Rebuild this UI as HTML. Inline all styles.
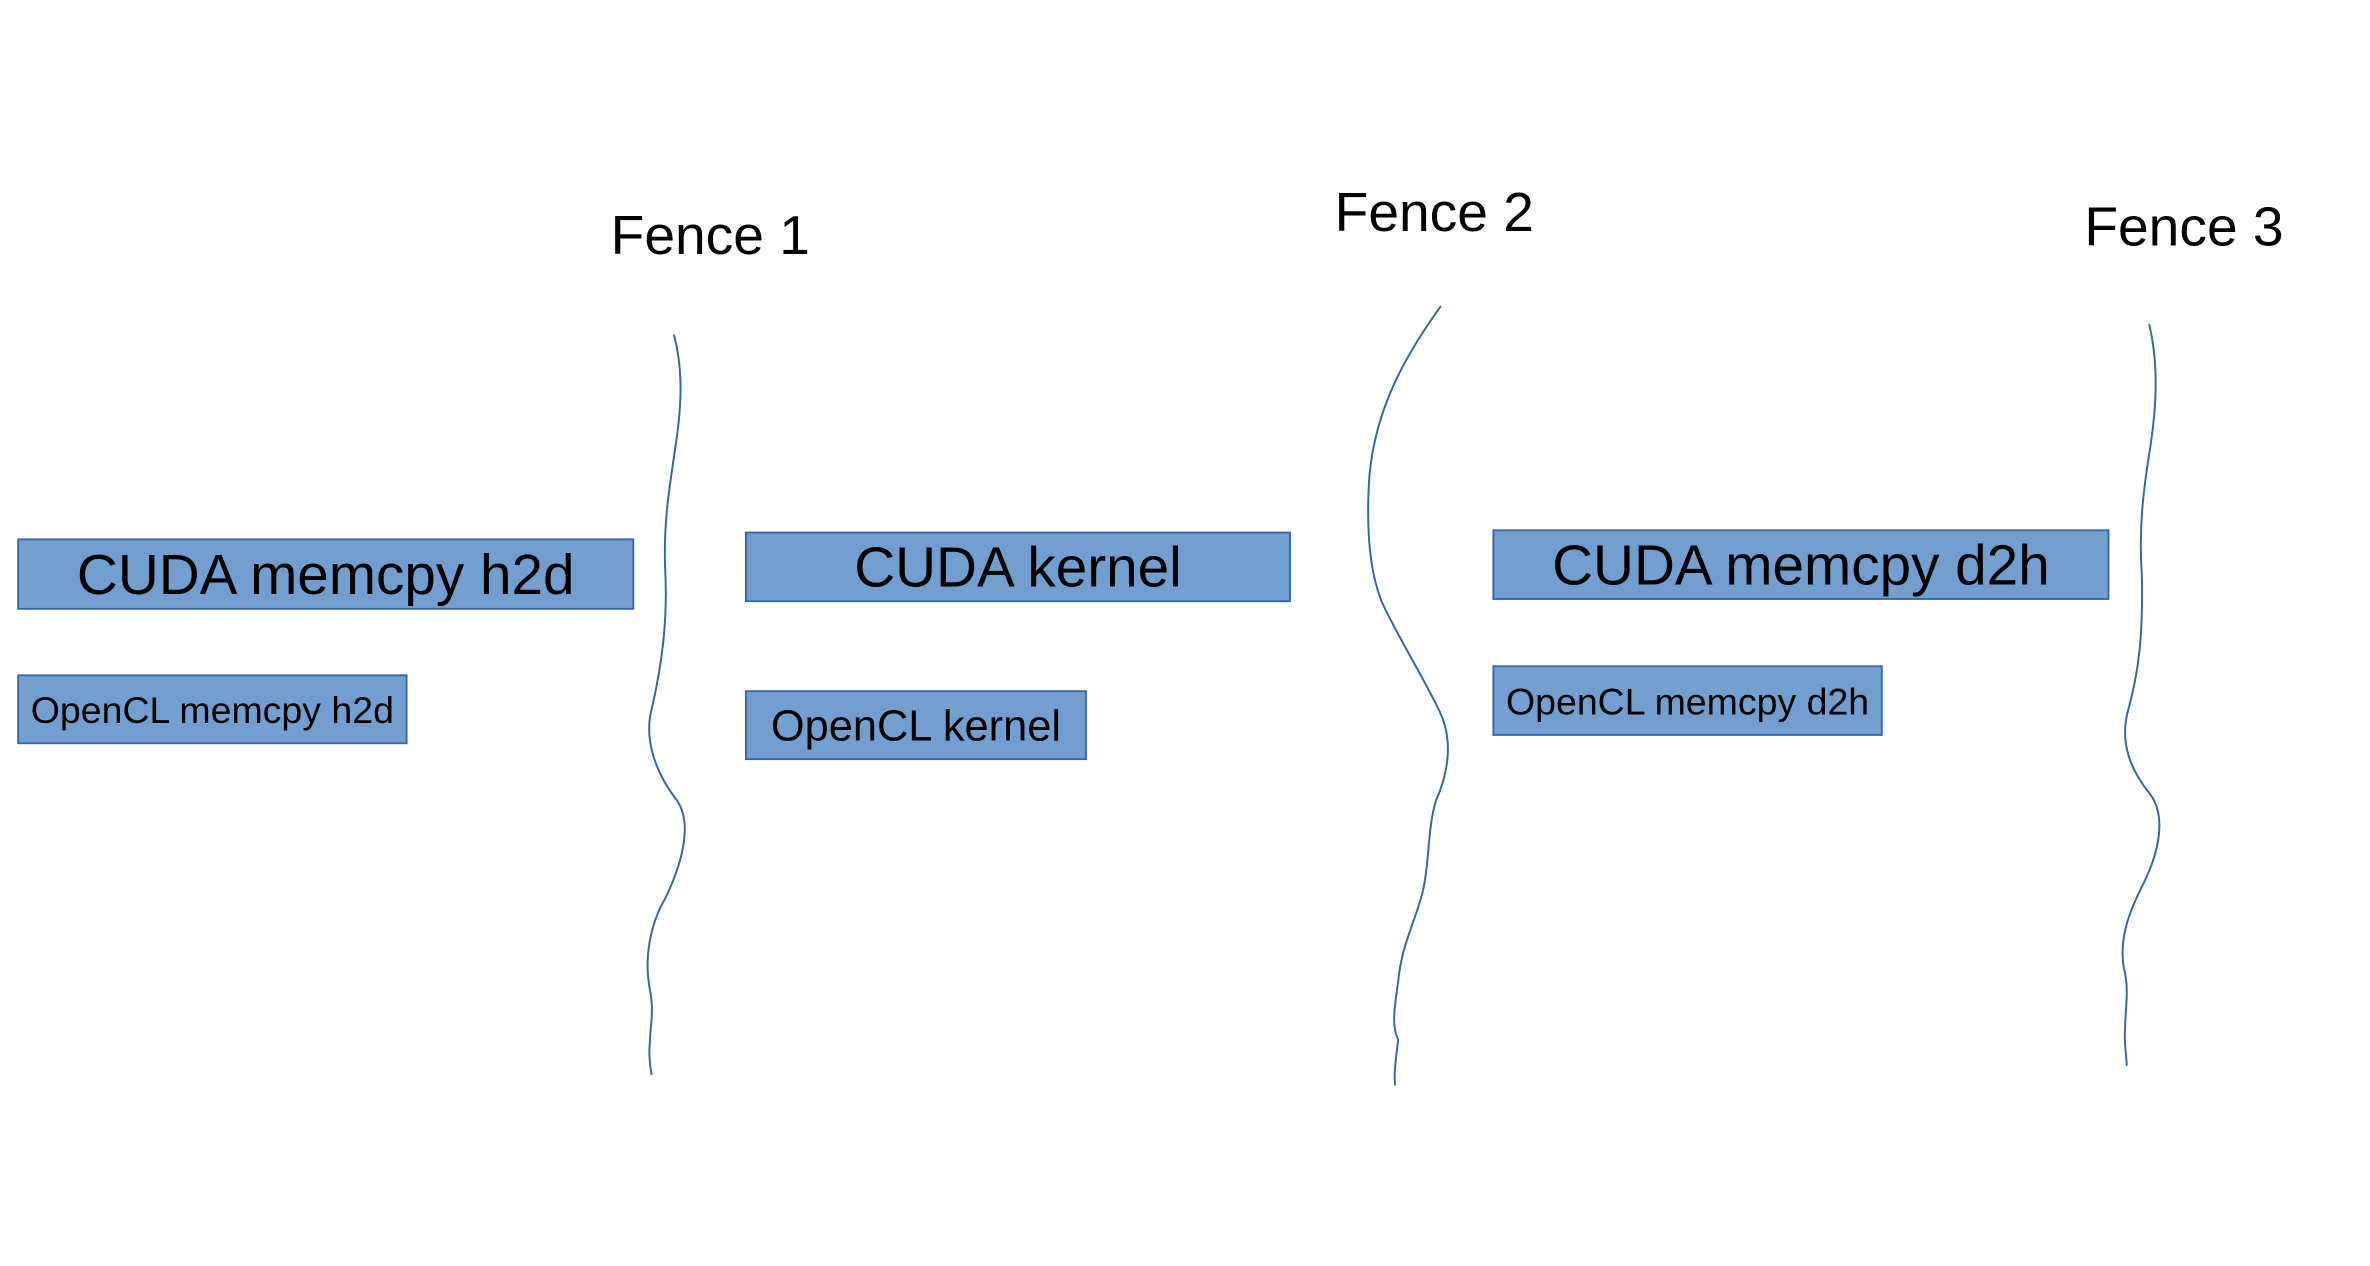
<!DOCTYPE html>
<html><head><meta charset="utf-8"><style>
html,body{margin:0;padding:0;background:#fff;}
svg{display:block;}
text{font-family:"Liberation Sans",Arial,sans-serif;fill:#000;}
</style></head><body>
<svg width="2370" height="1266" viewBox="0 0 1568 838" preserveAspectRatio="none" xmlns="http://www.w3.org/2000/svg">
<rect width="1568" height="838" fill="#fff"/>
<g fill="#729fcf" stroke="#3465a4" stroke-width="1.2">
<rect x="12" y="357" width="407" height="46"/>
<rect x="12" y="447" width="257" height="45"/>
<rect x="493.5" y="352.5" width="360" height="45.5"/>
<rect x="493.5" y="457.5" width="225" height="45"/>
<rect x="988" y="351" width="407" height="45.5"/>
<rect x="988" y="441" width="257" height="45.5"/>
</g>
<g font-size="37.5" text-anchor="middle" dominant-baseline="central">
<text x="215.5" y="381">CUDA memcpy h2d</text>
<text x="673.5" y="376">CUDA kernel</text>
<text x="1191.5" y="374.5">CUDA memcpy d2h</text>
</g>
<g text-anchor="middle" dominant-baseline="central">
<text x="140.5" y="470" font-size="24.8">OpenCL memcpy h2d</text>
<text x="606" y="481" font-size="28.7">OpenCL kernel</text>
<text x="1116.5" y="464.5" font-size="24.8">OpenCL memcpy d2h</text>
</g>
<g font-size="36.5">
<text x="404" y="168">Fence 1</text>
<text x="883" y="153">Fence 2</text>
<text x="1379" y="162.5">Fence 3</text>
</g>
<g fill="none" stroke="#3465a4" stroke-width="1.3" stroke-linejoin="round" stroke-linecap="round">
<path d="M446,222 C452,245 451,268 447,295 C443,322 439,345 440,375 C442,410 438,440 431,470 C426,490 434,512 448,530 C458,545 452,570 440,595 C430,612 426,635 430,655 C433,670 430,680 430,690 C429,698 430,705 431,711"/>
<path d="M953,203 C930,235 910,270 906,315 C904,345 905,375 914,398 C925,422 940,445 952,470 C962,490 958,512 950,530 C944,550 946,575 940,595 C934,615 927,628 925,650 C922,670 921,680 925,688 C924,698 922,710 923,718"/>
<path d="M1422,215 C1429,245 1426,275 1422,300 C1418,325 1415,350 1417,380 C1418,420 1415,445 1408,470 C1402,492 1410,510 1422,525 C1434,540 1428,565 1418,585 C1409,603 1402,620 1405,640 C1409,655 1406,668 1406,680 C1405,690 1407,698 1407,705"/>
</g>
</svg>
</body></html>
